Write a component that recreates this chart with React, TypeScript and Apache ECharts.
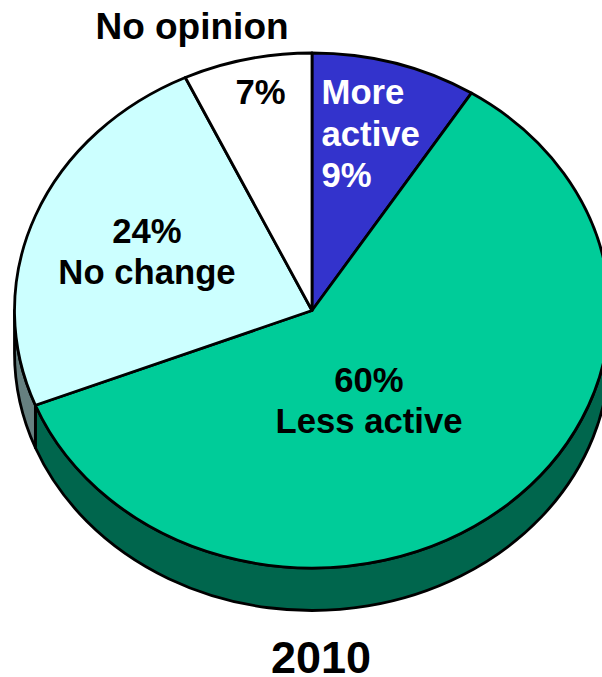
import React, { useEffect, useRef } from "react";
import * as echarts from "echarts";

const categories = ["More active", "Less active", "No change", "No opinion"];
const shares = [9, 60, 24, 7];
const faceColors = ["#3333CC", "#00CC99", "#CCFFFF", "#FFFFFF"];
const sideColors = ["#1F1F7A", "#00664D", "#668080", "#808080"];
const yearLabel = "2010";

const W = 602;
const H = 677;
const CX = 312;
const CY = 310.5;
const RX = 297.5;
const RY = 257.5;
const DEPTH = 42.5;
const FONT = '"Liberation Sans", Arial, sans-serif';

const total = shares.reduce((a, b) => a + b, 0);

const pt = (deg: number, dy = 0): [number, number] => {
  const r = (deg * Math.PI) / 180;
  return [CX + RX * Math.sin(r), CY - RY * Math.cos(r) + dy];
};

const renderItem = (params: any, api: any) => {
  const i = params.dataIndex;
  const before = shares.slice(0, i).reduce((a, b) => a + b, 0);
  const a0 = (before / total) * 360;
  const a1 = a0 + (api.value(0) / total) * 360;
  const children: any[] = [];
  const common = { stroke: "#000", lineWidth: 2.8, lineJoin: "round" };

  // the visible rim is the part of the slice facing the viewer (90°..270°)
  const s0 = Math.max(a0, 90);
  const s1 = Math.min(a1, 270);
  if (s1 > s0) {
    const [x0, y0] = pt(s0);
    const [x1, y1] = pt(s1);
    const [bx1, by1] = pt(s1, DEPTH);
    const [bx0, by0] = pt(s0, DEPTH);
    const large = s1 - s0 > 180 ? 1 : 0;
    children.push({
      type: "path",
      shape: {
        pathData: `M${x0} ${y0}A${RX} ${RY} 0 ${large} 1 ${x1} ${y1}L${bx1} ${by1}A${RX} ${RY} 0 ${large} 0 ${bx0} ${by0}Z`,
      },
      style: { fill: sideColors[i], ...common },
    });
  }
  const [x0, y0] = pt(a0);
  const [x1, y1] = pt(a1);
  const large = a1 - a0 > 180 ? 1 : 0;
  children.push({
    type: "path",
    shape: {
      pathData: `M${CX} ${CY}L${x0} ${y0}A${RX} ${RY} 0 ${large} 1 ${x1} ${y1}Z`,
    },
    style: { fill: faceColors[i], ...common },
  });
  return { type: "group", children };
};

const BODY = 34.7;

const label = (text: string, x: number, y: number, size = BODY, fill = "#000", align = "center") => ({
  type: "text",
  x,
  y,
  z: 10,
  style: { text, fill, font: `bold ${size}px ${FONT}`, textAlign: align, textVerticalAlign: "middle" },
});

export default function App() {
  const ref = useRef<HTMLDivElement>(null);
  useEffect(() => {
    document.body.style.margin = "0";
    const chart = echarts.init(ref.current!, null, { renderer: "svg" });
    chart.setOption({
      animation: false,
      backgroundColor: "#fff",
      series: [
        {
          type: "custom",
          coordinateSystem: "none",
          clip: false,
          renderItem,
          data: categories.map((name, i) => ({ name, value: [shares[i]] })),
        },
      ],
      graphic: [
        label(categories[3], 192, 26.5, 37),
        label(`${shares[3]}%`, 260.5, 92),
        label("More", 321.5, 92, BODY, "#fff", "left"),
        label("active", 321.5, 134, BODY, "#fff", "left"),
        label(`${shares[0]}%`, 321.5, 175, BODY, "#fff", "left"),
        label(`${shares[2]}%`, 147, 231),
        label(categories[2], 147, 272),
        label(`${shares[1]}%`, 369, 380),
        label(categories[1], 369, 421),
        label(yearLabel, 321, 657, 45),
      ],
    });
    return () => chart.dispose();
  }, []);
  return <div ref={ref} style={{ width: W, height: H }} />;
}
